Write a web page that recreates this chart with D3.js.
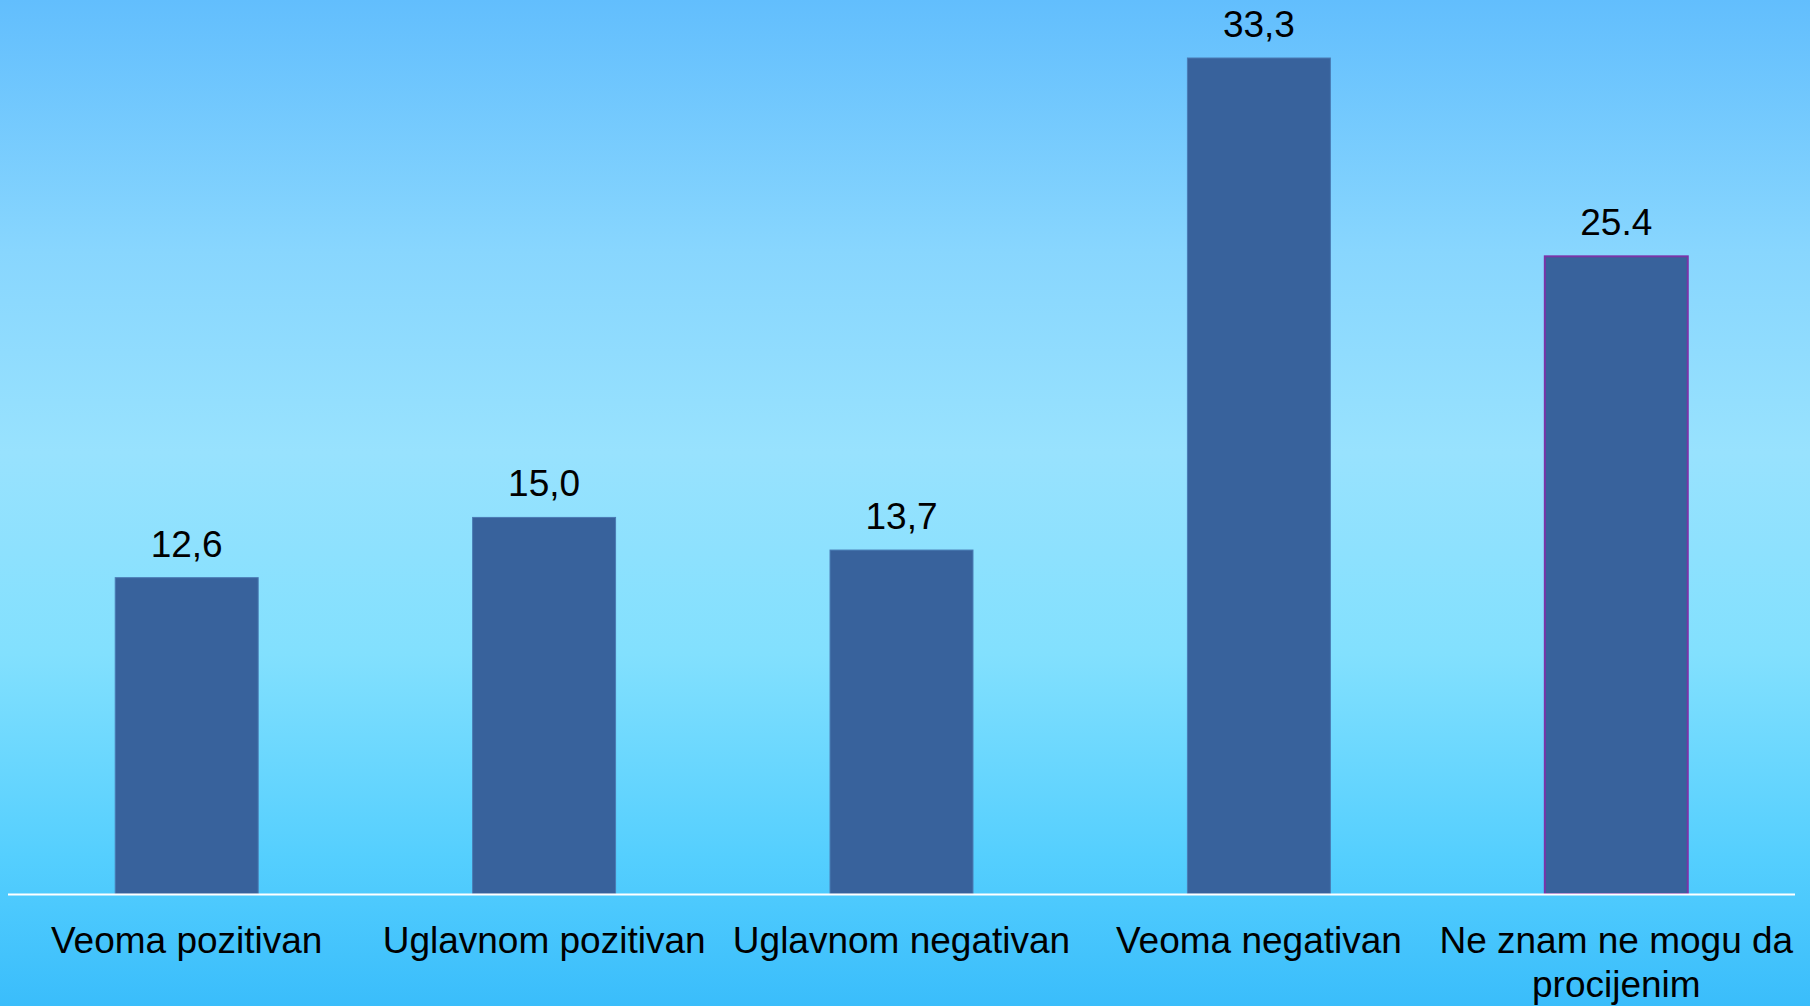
<!DOCTYPE html>
<html>
<head>
<meta charset="utf-8">
<title>Ocjena</title>
<script src="https://d3js.org/d3.v7.min.js"></script>
<style>
  html, body { margin: 0; padding: 0; overflow: hidden; }
  svg { display: block; }
  text { font-family: 'Liberation Sans', Arial, sans-serif; fill: #000; }
</style>
</head>
<body>
<svg id="chart" width="1810" height="1006"></svg>
<script>
// data
const categories = ['Veoma pozitivan', 'Uglavnom pozitivan', 'Uglavnom negativan', 'Veoma negativan', 'Ne znam ne mogu da procijenim'];
const values = [12.6, 15.0, 13.7, 33.3, 25.4];
const valueLabels = ['12,6', '15,0', '13,7', '33,3', '25.4'];

const W = 1810, H = 1006;
const margin = {top: 58, right: 15, bottom: 112, left: 8};
const baseY = H - margin.bottom;

const svg = d3.select('#chart');

// background gradient
const defs = svg.append('defs');
const grad = defs.append('linearGradient')
  .attr('id', 'bg').attr('x1', 0).attr('y1', 0).attr('x2', 0).attr('y2', 1);
[[0, '#62befd'], [0.25, '#88d6fe'], [0.45, '#98e2fe'], [0.65, '#82e0fe'], [0.85, '#55cffe'], [1, '#3abdfb']]
  .forEach(s => grad.append('stop').attr('offset', s[0]).attr('stop-color', s[1]));
svg.append('rect').attr('width', W).attr('height', H).attr('fill', 'url(#bg)');

const x = d3.scaleBand()
  .domain(categories)
  .range([margin.left, W - margin.right])
  .paddingInner(0.6)
  .paddingOuter(0.3);

const y = d3.scaleLinear()
  .domain([0, 33.3])
  .range([baseY, margin.top]);

// bars
svg.append('g').selectAll('rect')
  .data(values)
  .join('rect')
  .attr('x', (d, i) => x(categories[i]))
  .attr('y', d => y(d))
  .attr('width', x.bandwidth())
  .attr('height', d => baseY - y(d))
  .attr('fill', '#38629c')
  .attr('stroke', (d, i) => i === 4 ? '#7a34a8' : '#4a7bb4')
  .attr('stroke-width', (d, i) => i === 4 ? 2 : 1);

// value labels
svg.append('g').selectAll('text')
  .data(values)
  .join('text')
  .attr('x', (d, i) => x(categories[i]) + x.bandwidth() / 2)
  .attr('y', d => y(d) - 21)
  .attr('text-anchor', 'middle')
  .style('font-size', '37px')
  .text((d, i) => valueLabels[i]);

// baseline
svg.append('line')
  .attr('x1', margin.left).attr('x2', W - margin.right)
  .attr('y1', baseY + 0.5).attr('y2', baseY + 0.5)
  .attr('stroke', '#ffffff').attr('stroke-width', 2);

// category labels (wrap the long one)
const xAxis = d3.axisBottom(x).tickSize(0).tickPadding(0);
const ax = svg.append('g')
  .attr('transform', `translate(0,${baseY})`)
  .call(xAxis);
ax.select('.domain').remove();
ax.selectAll('.tick text')
  .attr('y', 0).attr('dy', null)
  .style('font-size', '37px')
  .style('font-family', "'Liberation Sans', Arial, sans-serif")
  .attr('fill', '#000')
  .each(function(d) {
    const t = d3.select(this);
    t.text(null);
    const lines = d === categories[4] ? ['Ne znam ne mogu da', 'procijenim'] : [d];
    lines.forEach((l, k) => {
      t.append('tspan').attr('x', 0).attr('y', 59 + k * 44).text(l);
    });
  });
</script>
</body>
</html>
